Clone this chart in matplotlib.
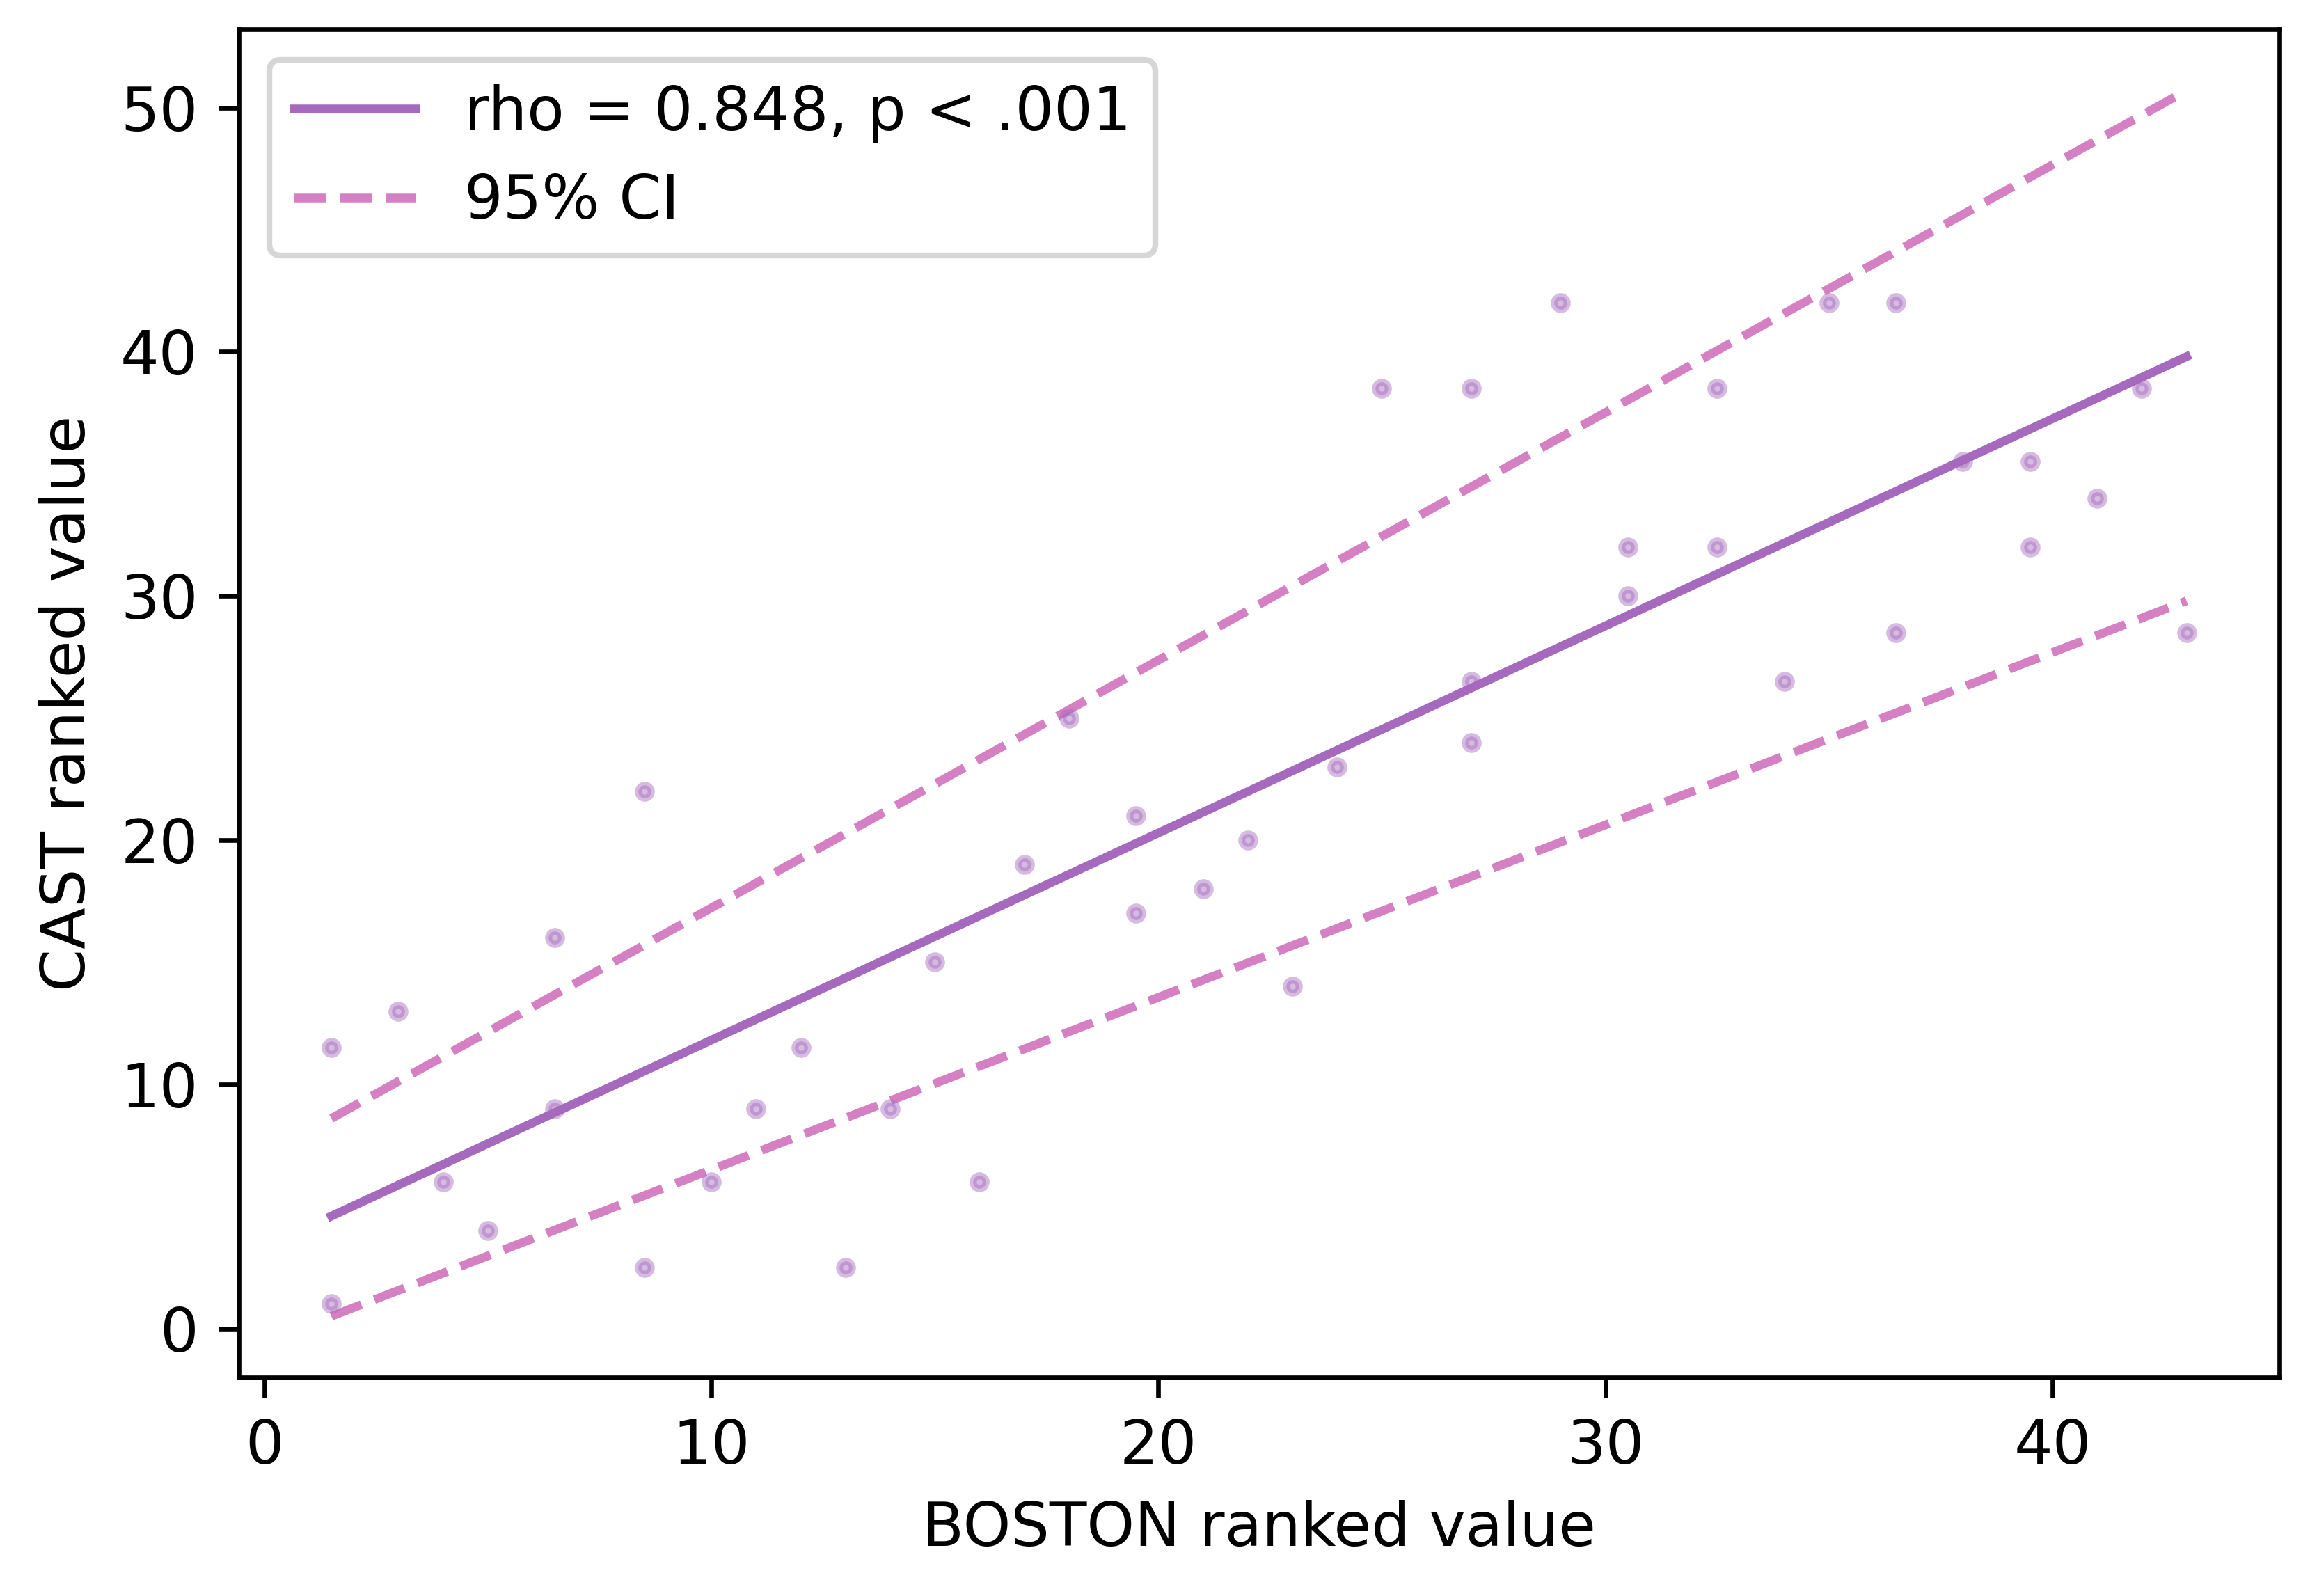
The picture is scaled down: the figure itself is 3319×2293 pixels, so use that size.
"""
Spearman rank correlation: BOSTON vs CAST ranked values
"""
import matplotlib
matplotlib.use('Agg')
import matplotlib.pyplot as plt

# Ranked values (ties share the average rank)
boston_rank = [1.5, 1.5, 3, 4, 5, 6.5, 6.5, 8.5, 8.5, 10, 11, 12, 13, 14, 15,
               16, 17, 18, 19.5, 19.5, 21, 22, 23, 24, 25, 27, 27, 27, 29,
               30.5, 30.5, 32.5, 32.5, 34, 35, 36.5, 36.5, 38, 39.5, 39.5,
               41, 42, 43]
cast_rank = [11.5, 1, 13, 6, 4, 16, 9, 22, 2.5, 6, 9, 11.5, 2.5, 9, 15,
             6, 19, 25, 21, 17, 18, 20, 14, 23, 38.5, 38.5, 26.5, 24, 42,
             32, 30, 38.5, 32, 26.5, 42, 42, 28.5, 35.5, 35.5, 32,
             34, 38.5, 28.5]

# Fitted line and 95% CI band (end points)
fit_x = [1.5, 43]
fit_y = [4.6, 39.8]
ci_x = [1.5, 43]
ci_upper = [8.6, 50.7]
ci_lower = [0.5, 29.8]

rho_label = 'rho = 0.848, p < .001'
ci_label = '95% CI'

line_color = '#a569bd'
ci_color = '#d580c3'

plt.rcParams['font.size'] = 10.5

fig = plt.figure(figsize=(3319 / 600, 2293 / 600), dpi=600)
ax = fig.add_axes([0.1033, 0.1369, 0.8834, 0.8448])

ax.scatter(boston_rank, cast_rank, s=5, color=line_color, alpha=0.45,
           linewidths=1.2, zorder=3)
ax.plot(fit_x, fit_y, color=line_color, linewidth=1.5, label=rho_label)
ax.plot(ci_x, ci_upper, color=ci_color, linewidth=1.5, linestyle='--',
        label=ci_label)
ax.plot(ci_x, ci_lower, color=ci_color, linewidth=1.5, linestyle='--')

ax.set_xlabel('BOSTON ranked value')
ax.set_ylabel('CAST ranked value')
ax.set_xticks([0, 10, 20, 30, 40])
ax.set_yticks([0, 10, 20, 30, 40, 50])
ax.legend(loc='upper left')

plt.savefig('out.png', dpi=600)
plt.close()
